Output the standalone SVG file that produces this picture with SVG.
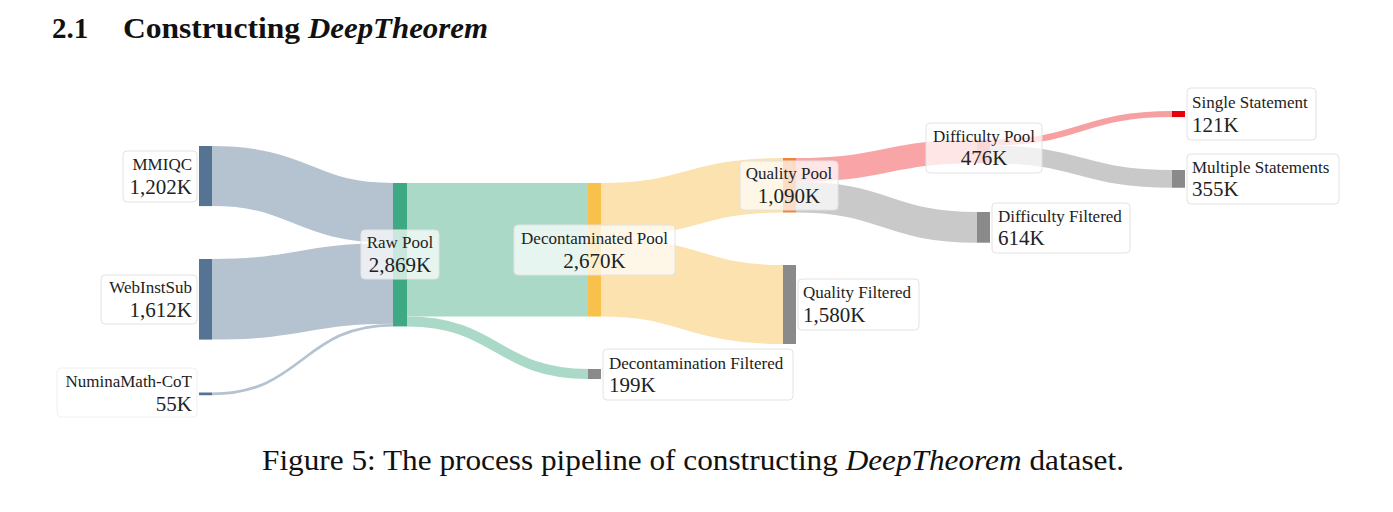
<svg xmlns="http://www.w3.org/2000/svg" width="1393" height="512" viewBox="0 0 1393 512">
<style>
.lnk{fill:none}
.box{fill:#ffffff;fill-opacity:0.72;stroke:#e2e2e2;stroke-width:1}
.nm{font-family:"Liberation Serif","Times New Roman",serif;font-size:17px;fill:#222}
.vl{font-family:"Liberation Serif","Times New Roman",serif;font-size:21px;fill:#222}
.title{font-family:"Liberation Serif","Times New Roman",serif;font-size:29px;font-weight:bold;fill:#111}
.cap{font-family:"Liberation Serif","Times New Roman",serif;font-size:30px;fill:#111}
</style>
<rect width="1393" height="512" fill="#ffffff"/>
<g id="heading">
<text class="title" x="52" y="38">2.1</text>
<text class="title" x="123" y="38" textLength="177" lengthAdjust="spacingAndGlyphs">Constructing</text>
<text class="title" x="308" y="38" font-style="italic" textLength="180" lengthAdjust="spacingAndGlyphs">DeepTheorem</text>
</g>
<g id="links">
<path class="lnk" d="M212,176.05 C302.5,176.05 302.5,213.05 393,213.05" stroke="#b5c3d1" stroke-width="60.1"/>
<path class="lnk" d="M212,299.3 C302.5,299.3 302.5,283.4 393,283.4" stroke="#b5c3d1" stroke-width="80.6"/>
<path class="lnk" d="M212,393.9 C302.5,393.9 302.5,325.1 393,325.1" stroke="#b5c3d1" stroke-width="2.75"/>
<path class="lnk" d="M407,249.75 C497.5,249.75 497.5,249.75 588,249.75" stroke="#aad9c8" stroke-width="133.5"/>
<path class="lnk" d="M407,321.5 C497.5,321.5 497.5,374 588,374" stroke="#aad9c8" stroke-width="9.95"/>
<path class="lnk" d="M601,210.25 C692,210.25 692,185.25 783,185.25" stroke="#fbe2ae" stroke-width="54.5"/>
<path class="lnk" d="M601,277 C692,277 692,304.5 783,304.5" stroke="#fbe2ae" stroke-width="79"/>
<path class="lnk" d="M796,169.9 C886.5,169.9 886.5,151.4 977,151.4" stroke="#f9a4a6" stroke-width="23.8"/>
<path class="lnk" d="M796,197.15 C886.5,197.15 886.5,227.35 977,227.35" stroke="#c9c9c9" stroke-width="30.7"/>
<path class="lnk" d="M990,142.5 C1081,142.5 1081,114 1172,114" stroke="#f6a0a2" stroke-width="6.05"/>
<path class="lnk" d="M990,154.4 C1081,154.4 1081,178.9 1172,178.9" stroke="#c9c9c9" stroke-width="17.75"/>
</g>
<g id="node-mmiqc">
<rect x="199" y="146" width="13" height="60.1" fill="#557392"/>
<rect class="box" x="123" y="151" width="74" height="51" rx="4"/>
<text class="nm" x="192" y="170" text-anchor="end">MMIQC</text>
<text class="vl" x="192" y="194" text-anchor="end">1,202K</text>
</g>
<g id="node-webinstsub">
<rect x="199" y="259" width="13" height="80.6" fill="#557392"/>
<rect class="box" x="101" y="275" width="96" height="49" rx="4"/>
<text class="nm" x="192" y="293" text-anchor="end">WebInstSub</text>
<text class="vl" x="192" y="317" text-anchor="end">1,612K</text>
</g>
<g id="node-numina">
<rect x="199" y="392.5" width="13" height="2.75" fill="#557392"/>
<rect class="box" x="57" y="368" width="140" height="49" rx="4" style="stroke:#f0f0f0"/>
<text class="nm" x="192" y="387" text-anchor="end">NuminaMath-CoT</text>
<text class="vl" x="192" y="411" text-anchor="end">55K</text>
</g>
<g id="node-raw-pool">
<rect x="393" y="183" width="14" height="143.45" fill="#3fa984"/>
<rect class="box" x="361" y="230" width="78" height="49" rx="4"/>
<text class="nm" x="400" y="248" text-anchor="middle">Raw Pool</text>
<text class="vl" x="400" y="272" text-anchor="middle">2,869K</text>
</g>
<g id="node-decontaminated-pool">
<rect x="588" y="183" width="13" height="133.5" fill="#f8c14c"/>
<rect class="box" x="514" y="225" width="161" height="50" rx="4"/>
<text class="nm" x="594.5" y="244" text-anchor="middle">Decontaminated Pool</text>
<text class="vl" x="594.5" y="268" text-anchor="middle">2,670K</text>
</g>
<g id="node-decontamination-filtered">
<rect x="588" y="369" width="13" height="10" fill="#8a8a8a"/>
<rect class="box" x="603" y="349" width="190" height="51" rx="4"/>
<text class="nm" x="609" y="369">Decontamination Filtered</text>
<text class="vl" x="609" y="392">199K</text>
</g>
<g id="node-quality-pool">
<rect x="783" y="158" width="13" height="54.5" fill="#f0853a"/>
<rect class="box" x="740" y="161" width="98" height="49" rx="4"/>
<text class="nm" x="789" y="179" text-anchor="middle">Quality Pool</text>
<text class="vl" x="789" y="203" text-anchor="middle">1,090K</text>
</g>
<g id="node-quality-filtered">
<rect x="783" y="265" width="13" height="79" fill="#8a8a8a"/>
<rect class="box" x="798" y="279" width="121" height="51" rx="4"/>
<text class="nm" x="803" y="298">Quality Filtered</text>
<text class="vl" x="803" y="322">1,580K</text>
</g>
<g id="node-difficulty-pool">
<rect x="977" y="139.5" width="13" height="23.8" fill="#f07070"/>
<rect class="box" x="926" y="123" width="116" height="50" rx="4"/>
<text class="nm" x="984" y="142" text-anchor="middle">Difficulty Pool</text>
<text class="vl" x="984" y="165" text-anchor="middle">476K</text>
</g>
<g id="node-difficulty-filtered">
<rect x="977" y="212" width="13" height="30.7" fill="#8a8a8a"/>
<rect class="box" x="992" y="203" width="138" height="50" rx="4"/>
<text class="nm" x="998" y="222">Difficulty Filtered</text>
<text class="vl" x="998" y="245">614K</text>
</g>
<g id="node-single-statement">
<rect x="1172" y="111" width="13" height="6.05" fill="#e6000c"/>
<rect class="box" x="1187" y="88" width="129" height="52" rx="4"/>
<text class="nm" x="1192" y="108">Single Statement</text>
<text class="vl" x="1192" y="132">121K</text>
</g>
<g id="node-multiple-statements">
<rect x="1172" y="170" width="13" height="17.75" fill="#8a8a8a"/>
<rect class="box" x="1187" y="154" width="152" height="50" rx="4"/>
<text class="nm" x="1192" y="173">Multiple Statements</text>
<text class="vl" x="1192" y="196">355K</text>
</g>
<g id="caption">
<text class="cap" x="262" y="470" textLength="862" lengthAdjust="spacingAndGlyphs">Figure 5: The process pipeline of constructing <tspan font-style="italic">DeepTheorem</tspan> dataset.</text>
</g>
</svg>
